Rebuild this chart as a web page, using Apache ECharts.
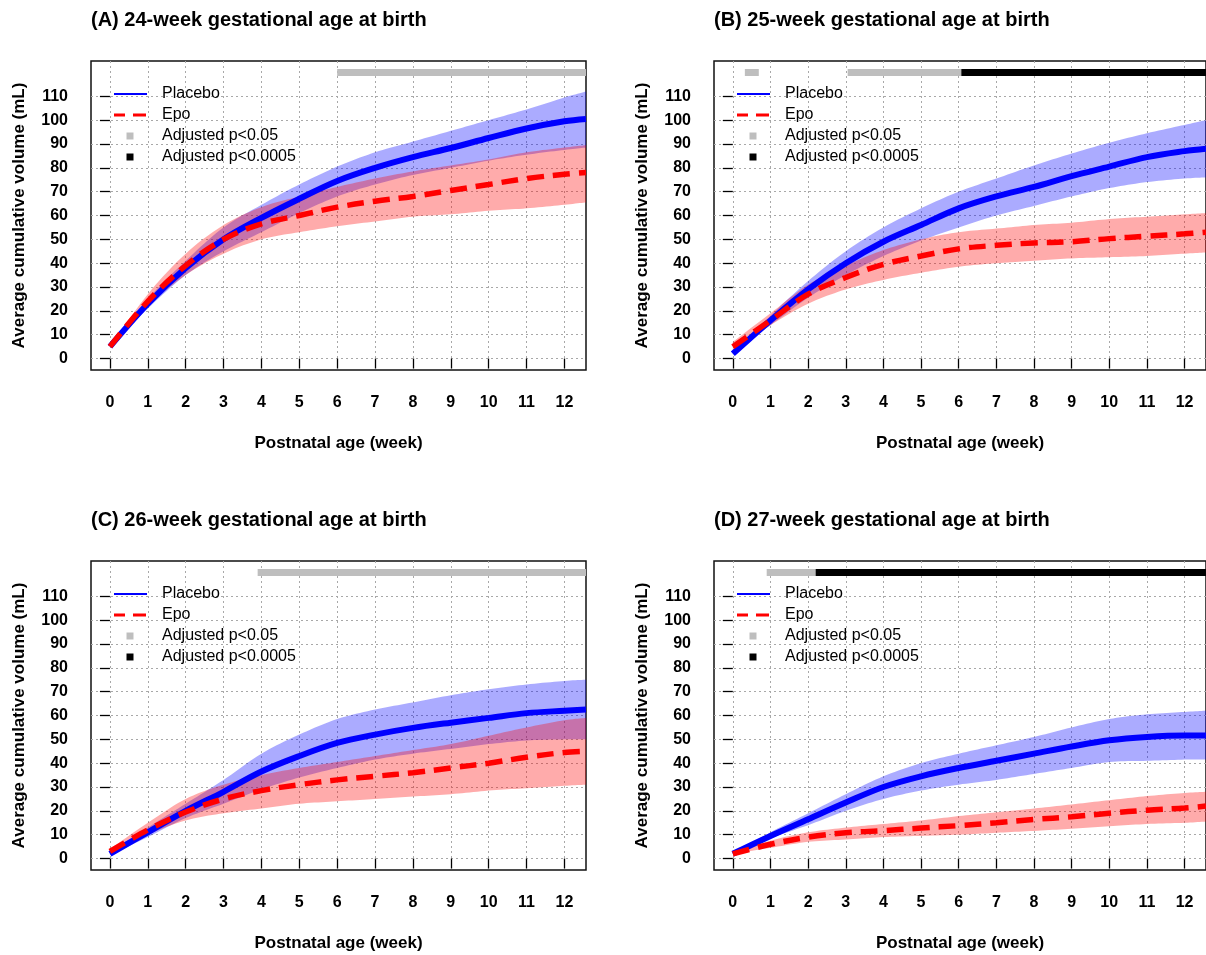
<!DOCTYPE html>
<html><head><meta charset="utf-8">
<script src="https://cdn.jsdelivr.net/npm/echarts@6/dist/echarts.min.js"></script>
<style>html,body{margin:0;padding:0;background:#fff}#c{width:1206px;height:955px}</style>
</head><body><div id="c"></div>
<script>
// ---------------- DATA ----------------
const WEEKS = [0, 1, 2, 3, 4, 5, 6, 7, 8, 9, 10, 11, 12, 12.57];
const X_TICKS = [0, 1, 2, 3, 4, 5, 6, 7, 8, 9, 10, 11, 12];
const Y_TICKS = [0, 10, 20, 30, 40, 50, 60, 70, 80, 90, 100, 110];
const PANEL_TITLES = [
  '(A) 24-week gestational age at birth',
  '(B) 25-week gestational age at birth',
  '(C) 26-week gestational age at birth',
  '(D) 27-week gestational age at birth'
];
const SERIES_NAMES = ['Placebo', 'Epo', 'Adjusted p<0.05', 'Adjusted p<0.0005'];
const SIG_ROW = 120; // value level of the significance strip

// Panel A (24 weeks)
const placeboA    = [5, 23, 38, 50, 59, 67, 74.5, 80, 84.5, 88.3, 92.5, 96.5, 99.5, 100.5];
const placeboA_lo = [5, 21, 35, 45, 53, 61, 68, 73, 77, 80, 83, 85.5, 87.5, 88.5];
const placeboA_hi = [5, 25, 41, 55, 64.5, 73, 80.5, 86.5, 91, 95.5, 100, 104.5, 109.5, 112];
const epoA        = [5, 24, 39, 50, 56.5, 60, 63.5, 66, 68, 70.5, 73, 75.5, 77.3, 78];
const epoA_lo     = [5, 22, 35, 44, 50, 53, 55.5, 57.5, 59.5, 60.5, 62, 63, 64.5, 65.5];
const epoA_hi     = [5, 27, 44, 56, 63.5, 68, 72, 75.5, 78.5, 81, 83.5, 86.5, 88.5, 89.5];
const sigA = [[6.0, 12.57, 'Adjusted p<0.05']];

// Panel B (25 weeks)
const placeboB    = [2, 16, 29, 40, 49, 56, 63, 68, 72, 76.5, 80.5, 84.5, 87, 88];
const placeboB_lo = [2, 14, 25.5, 35, 43, 49.5, 55, 60, 64, 68, 71.5, 74, 75.5, 76];
const placeboB_hi = [2, 18, 32.5, 45, 55, 63, 70, 75.5, 81, 86, 90.5, 94.5, 98, 100];
const epoB        = [5, 16, 27, 34, 39.5, 43, 46, 47.5, 48.5, 49, 50.3, 51.3, 52.3, 53];
const epoB_lo     = [3, 14, 23, 29, 33, 36, 38.5, 40, 41, 42, 42.5, 43, 44, 44.5];
const epoB_hi     = [7, 19, 31, 39, 45.5, 50, 53, 54.5, 56, 57, 58.5, 59.5, 60.5, 61];
const sigB = [[0.32, 0.69, 'Adjusted p<0.05'], [3.05, 6.07, 'Adjusted p<0.05'], [6.07, 12.57, 'Adjusted p<0.0005']];

// Panel C (26 weeks)
const placeboC    = [2, 11, 20, 28, 36.5, 43, 48.5, 52, 54.8, 57, 59, 61, 62, 62.5];
const placeboC_lo = [1.5, 9, 17, 23, 29, 34, 38, 41.5, 44, 46, 48, 49.5, 50, 50];
const placeboC_hi = [2.5, 13, 23, 33, 44, 52, 58.5, 62.5, 65.5, 68.5, 71, 73, 74.5, 75];
const epoC        = [3, 12, 19.5, 25, 28.5, 31, 33, 34.5, 36, 38, 40, 42.5, 44.5, 45];
const epoC_lo     = [2, 10, 16, 19, 21, 23, 24, 25, 26, 27, 28.5, 29.5, 30.5, 31];
const epoC_hi     = [4, 15, 25, 31, 35, 38, 40.5, 43, 45.5, 48, 51.5, 55, 58, 59];
const sigC = [[3.9, 12.57, 'Adjusted p<0.05']];

// Panel D (27 weeks)
const placeboD    = [2, 9.5, 16.5, 23.5, 30, 34.5, 38, 41, 44, 47, 49.6, 51, 51.6, 51.6];
const placeboD_lo = [2, 8.5, 14, 20, 25, 28.5, 31, 33, 35.5, 38, 40.5, 41, 41.5, 41.5];
const placeboD_hi = [2, 11, 19, 27, 34.5, 40, 44, 47.5, 51, 55, 58.5, 60.5, 61.5, 62];
const epoD        = [2, 6, 9, 10.8, 11.7, 12.8, 13.8, 15, 16.4, 17.5, 19, 20.3, 21.2, 22];
const epoD_lo     = [2, 4.5, 7, 8, 9, 9.5, 10, 10.8, 11.6, 12.5, 13.5, 14.5, 15, 15.5];
const epoD_hi     = [2, 7.5, 11, 13, 14.5, 16, 17.8, 19.4, 21, 22.7, 24.5, 26.2, 27.5, 28];
const sigD = [[0.9, 2.2, 'Adjusted p<0.05'], [2.2, 12.57, 'Adjusted p<0.0005']];

const PANELS = [
  {placebo: placeboA, pLo: placeboA_lo, pHi: placeboA_hi, epo: epoA, eLo: epoA_lo, eHi: epoA_hi, sig: sigA},
  {placebo: placeboB, pLo: placeboB_lo, pHi: placeboB_hi, epo: epoB, eLo: epoB_lo, eHi: epoB_hi, sig: sigB},
  {placebo: placeboC, pLo: placeboC_lo, pHi: placeboC_hi, epo: epoC, eLo: epoC_lo, eHi: epoC_hi, sig: sigC},
  {placebo: placeboD, pLo: placeboD_lo, pHi: placeboD_hi, epo: epoD, eLo: epoD_lo, eHi: epoD_hi, sig: sigD}
];

// ---------------- LAYOUT & STYLE ----------------
const FONT = "'Liberation Sans', Arial, sans-serif";
const GRID_LEFT = [91, 714, 91, 714];
const GRID_TOP = [61, 61, 561, 561];
const GRID_W = 495, GRID_H = 309;
const X_MIN = -0.5, X_MAX = 12.57, Y_MIN = -4.8, Y_MAX = 124.8;
const BLUE = '#0000ff', RED = '#ff0000';
const BLUE_BAND = 'rgba(0,0,255,0.33)', RED_BAND = 'rgba(255,0,0,0.33)';
const SIG_COLORS = {'Adjusted p<0.05': '#bebebe', 'Adjusted p<0.0005': '#000000'};
const SMOOTH = 0.35;
const LEGEND_ICONS = {
  'Placebo': 'path://M0,0M43,14M0,6h33v2h-33z',
  'Epo': 'path://M0,0M43,14M0,5.5h11v3h-11zM19,5.5h13v3h-13z',
  'Adjusted p<0.05': 'path://M0,0M43,14M12.5,3.5h7v7h-7z',
  'Adjusted p<0.0005': 'path://M0,0M43,14M12.5,3.5h7v7h-7z'
};

const pts = arr => WEEKS.map((w, k) => [w, arr[k]]);

// Catmull-Rom curve through pixel points (render-time smoothing only)
function smoothPath(p, seg) {
  const out = [];
  const n = p.length;
  for (let i = 0; i < n - 1; i++) {
    const p0 = p[Math.max(i - 1, 0)], p1 = p[i], p2 = p[i + 1], p3 = p[Math.min(i + 2, n - 1)];
    for (let s = 0; s < seg; s++) {
      const t = s / seg, t2 = t * t, t3 = t2 * t;
      const f = j => 0.5 * (2 * p1[j] + (-p0[j] + p2[j]) * t +
        (2 * p0[j] - 5 * p1[j] + 4 * p2[j] - p3[j]) * t2 +
        (-p0[j] + 3 * p1[j] - 3 * p2[j] + p3[j]) * t3);
      out.push([f(0), f(1)]);
    }
  }
  out.push(p[n - 1]);
  return out;
}

function bandSeries(i, lo, hi, color) {
  const rows = WEEKS.map((w, k) => [w, lo[k], hi[k]]);
  return {
    type: 'custom', name: 'band', xAxisIndex: i, yAxisIndex: i, data: rows,
    encode: {x: 0, y: [1, 2]}, silent: true, clip: true, z: 1,
    renderItem: (params, api) => {
      if (params.dataIndex !== 0) return null;
      const up = smoothPath(rows.map(r => api.coord([r[0], r[2]])), 10);
      const dn = smoothPath(rows.map(r => api.coord([r[0], r[1]])), 10).reverse();
      return {type: 'polygon', shape: {points: up.concat(dn)}, style: {fill: color}};
    }
  };
}

const grids = [], xAxes = [], yAxes = [], series = [], titles = [], legends = [];

PANELS.forEach((d, i) => {
  grids.push({left: GRID_LEFT[i], top: GRID_TOP[i], width: GRID_W, height: GRID_H,
    show: true, borderColor: '#111', borderWidth: 1.5, backgroundColor: '#fff', containLabel: false});
  xAxes.push({gridIndex: i, type: 'value', min: X_MIN, max: X_MAX,
    axisLine: {show: false},
    axisTick: {show: true, inside: false, length: 10, customValues: X_TICKS, lineStyle: {color: '#000', width: 1.3}},
    axisLabel: {customValues: X_TICKS, margin: 25, fontSize: 16, fontWeight: 'bold', color: '#000', fontFamily: FONT},
    splitLine: {show: true, lineStyle: {color: '#a8a8a8', type: [2, 3], width: 1}},
    name: 'Postnatal age (week)', nameLocation: 'middle', nameGap: 65,
    nameTextStyle: {fontSize: 17, fontWeight: 'bold', color: '#000', fontFamily: FONT}});
  yAxes.push({gridIndex: i, type: 'value', min: Y_MIN, max: Y_MAX,
    axisLine: {show: false},
    axisTick: {show: true, inside: false, length: 10, customValues: Y_TICKS, lineStyle: {color: '#000', width: 1.3}},
    axisLabel: {customValues: Y_TICKS, margin: 23, fontSize: 16, fontWeight: 'bold', color: '#000', fontFamily: FONT},
    splitLine: {show: true, lineStyle: {color: '#a8a8a8', type: [2, 3], width: 1}},
    name: 'Average cumulative volume (mL)', nameLocation: 'middle', nameGap: 63,
    nameTextStyle: {fontSize: 17, fontWeight: 'bold', color: '#000', fontFamily: FONT}});

  series.push(bandSeries(i, d.pLo, d.pHi, BLUE_BAND));
  series.push(bandSeries(i, d.eLo, d.eHi, RED_BAND));
  series.push({type: 'line', name: 'Placebo', xAxisIndex: i, yAxisIndex: i, data: pts(d.placebo),
    symbol: 'none', smooth: SMOOTH, color: BLUE, itemStyle: {color: BLUE},
    lineStyle: {color: BLUE, width: 6}, z: 3});
  series.push({type: 'line', name: 'Epo', xAxisIndex: i, yAxisIndex: i, data: pts(d.epo),
    symbol: 'none', smooth: SMOOTH, color: RED, itemStyle: {color: RED},
    lineStyle: {color: RED, width: 5.5, type: [17, 9]}, z: 4});
  d.sig.forEach(([from, to, lvl]) => {
    series.push({type: 'line', name: lvl, xAxisIndex: i, yAxisIndex: i,
      data: [[from, SIG_ROW], [to, SIG_ROW]], symbol: 'none',
      color: SIG_COLORS[lvl], itemStyle: {color: SIG_COLORS[lvl]},
      lineStyle: {color: SIG_COLORS[lvl], width: 7, cap: 'butt'}, z: 5});
  });

  titles.push({text: PANEL_TITLES[i], left: GRID_LEFT[i], top: GRID_TOP[i] - 51, padding: 0,
    textStyle: {fontSize: 20, fontWeight: 'bold', color: '#000', fontFamily: FONT}});
  legends.push({left: GRID_LEFT[i] + 23, top: GRID_TOP[i] + 25, orient: 'vertical', padding: 0,
    itemWidth: 43, itemHeight: 14, itemGap: 5, selectedMode: false,
    itemStyle: {borderWidth: 0},
    textStyle: {fontSize: 16, color: '#000', fontFamily: FONT},
    data: SERIES_NAMES.map(n => ({name: n, icon: LEGEND_ICONS[n]}))});
});

const chart = echarts.init(document.getElementById('c'), null, {renderer: 'canvas'});
chart.setOption({
  animation: false,
  backgroundColor: '#fff',
  title: titles,
  legend: legends,
  grid: grids,
  xAxis: xAxes,
  yAxis: yAxes,
  series: series
});
</script>
</body></html>
